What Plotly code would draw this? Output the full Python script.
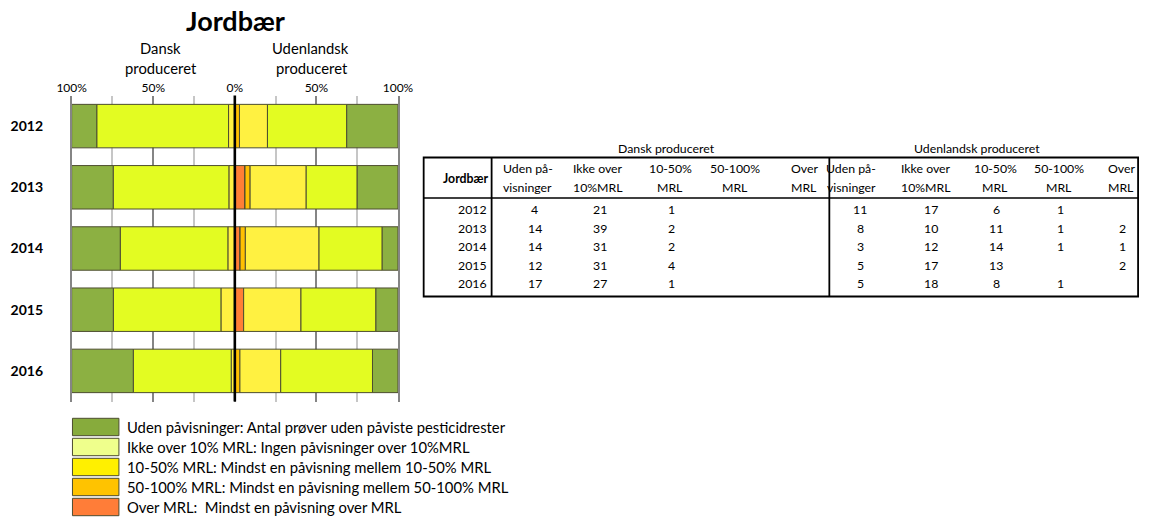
import plotly.graph_objects as go

# ---------------- data ----------------
years = ['2012', '2013', '2014', '2015', '2016']
categories = ['Uden påvisninger', 'Ikke over 10% MRL', '10-50% MRL', '50-100% MRL', 'Over MRL']

dk_uden = [4, 14, 14, 12, 17]
dk_ikke = [21, 39, 31, 31, 27]
dk_10_50 = [1, 2, 2, 4, 1]
dk_50_100 = [0, 0, 0, 0, 0]
dk_over = [0, 0, 0, 0, 0]

fo_uden = [11, 8, 3, 5, 5]
fo_ikke = [17, 10, 12, 17, 18]
fo_10_50 = [6, 11, 14, 13, 8]
fo_50_100 = [1, 1, 1, 0, 1]
fo_over = [0, 2, 1, 2, 0]

tick_vals = [-100, -50, 0, 50, 100]
tick_text = ['100%', '50%', '0%', '50%', '100%']

col_header_1 = ['Uden på-', 'Ikke over', '10-50%', '50-100%', 'Over']
col_header_2 = ['visninger', '10%MRL', 'MRL', 'MRL', 'MRL']

legend_texts = [
    'Uden påvisninger: Antal prøver uden påviste pesticidrester',
    'Ikke over 10% MRL: Ingen påvisninger over 10%MRL',
    '10-50% MRL: Mindst en påvisning mellem 10-50% MRL',
    '50-100% MRL: Mindst en påvisning mellem 50-100% MRL',
    'Over MRL:  Mindst en påvisning over MRL',
]

# ---------------- styles ----------------
W, H = 1157, 518
FONT = 'Lato'
bar_colors = ['#8cb042', '#e3fc22', '#fff141', '#ffc000', '#ff7f36']
legend_colors = ['#87ab3c', '#efff8c', '#fff000', '#ffc300', '#ff7d38']
edge = '#4d4d30'

# the photographed page shows the figure slightly narrowed and centred;
# these helpers place layout items at the intended picture position
SX, OX = 0.974, 15.0


def px(x):
    return min(max((x - OX) / SX, 0.0), W) / W


def py(y):
    return 1 - y / H


dk = [dk_uden, dk_ikke, dk_10_50, dk_50_100, dk_over]
fo = [fo_uden, fo_ikke, fo_10_50, fo_50_100, fo_over]
dk_tot = [sum(s[i] for s in dk) for i in range(len(years))]
fo_tot = [sum(s[i] for s in fo) for i in range(len(years))]

fig = go.Figure()
# stack order from the centre outward: Over MRL ... Uden
for k in [4, 3, 2, 1, 0]:
    fig.add_trace(go.Bar(
        y=years, x=[-100 * v / t for v, t in zip(dk[k], dk_tot)], orientation='h',
        name=categories[k], showlegend=False, width=0.71,
        marker=dict(color=bar_colors[k], line=dict(color=edge, width=1)),
        customdata=dk[k], hovertemplate='Dansk %{y}: %{customdata}<extra>' + categories[k] + '</extra>'))
    fig.add_trace(go.Bar(
        y=years, x=[100 * v / t for v, t in zip(fo[k], fo_tot)], orientation='h',
        name=categories[k], showlegend=False, width=0.71,
        marker=dict(color=bar_colors[k], line=dict(color=edge, width=1)),
        customdata=fo[k], hovertemplate='Udenlandsk %{y}: %{customdata}<extra>' + categories[k] + '</extra>'))

y_dom = [py(401.5), py(95.5)]
x_dom = [px(71.7), px(398.3)]

fig.update_layout(
    width=W, height=H, margin=dict(l=0, r=0, t=0, b=0),
    paper_bgcolor='white', plot_bgcolor='white', barmode='relative', bargap=0.29,
    font=dict(family=FONT, color='black'),
    xaxis=dict(domain=x_dom, range=[-100, 100], side='top', tickvals=tick_vals, ticktext=tick_text,
               tickfont=dict(size=12, family=FONT), ticks='', ticklabelstandoff=0,
               showgrid=True, gridcolor='#858585', gridwidth=1.5, zeroline=False,
               minor=dict(tickvals=[-75, -25, 25, 75], showgrid=True, gridcolor='#c6c6c6', gridwidth=1.5),
               fixedrange=True),
    yaxis=dict(domain=y_dom, categoryorder='array', categoryarray=years, autorange='reversed',
               tickfont=dict(size=14, family=FONT, weight='bold'), ticks='', ticklabelstandoff=24,
               showgrid=False, zeroline=False, showline=True, mirror=True,
               linecolor='#858585', linewidth=1.5, fixedrange=True),
)

shapes = []
# zero reference line
shapes.append(dict(type='line', xref='x', yref='paper', x0=0, x1=0, y0=y_dom[0], y1=y_dom[1],
                   line=dict(color='black', width=2.6), layer='above'))

ann = []
ann.append(dict(text='<b>Jordbær</b>', x=px(236), y=py(20), font=dict(size=27, family=FONT)))
ann.append(dict(text='Dansk', x=px(161), y=py(48.5), font=dict(size=14.8, family=FONT)))
ann.append(dict(text='produceret', x=px(161), y=py(68.3), font=dict(size=14.8, family=FONT)))
ann.append(dict(text='Udenlandsk', x=px(311), y=py(48.5), font=dict(size=14.8, family=FONT)))
ann.append(dict(text='produceret', x=px(312), y=py(68.3), font=dict(size=14.8, family=FONT)))

# ---------------- table ----------------
t_left, t_right, t_top, t_bot = 424, 1139, 157.5, 296.5
t_head = 198
c_year = 492
c_split = 830
head_y1, head_y2 = 168.5, 187
row_y = [209.5, 228, 246.5, 265, 283.5]
dk_head_x = [528, 598, 671, 736, 805]
fo_head_x = [852, 927, 996, 1060, 1122]
dk_num_x = [535, 600, 672, 737, 806]
fo_num_x = [861, 932, 997, 1061, 1123]
tf = dict(size=12.3, family=FONT)

shapes.append(dict(type='rect', xref='paper', yref='paper', x0=px(t_left), x1=px(t_right),
                   y0=py(t_bot), y1=py(t_top), line=dict(color='black', width=1.8)))
shapes.append(dict(type='line', xref='paper', yref='paper', x0=px(t_left), x1=px(t_right),
                   y0=py(t_head), y1=py(t_head), line=dict(color='black', width=1.3)))
for xv in [c_year, c_split]:
    shapes.append(dict(type='line', xref='paper', yref='paper', x0=px(xv), x1=px(xv),
                       y0=py(t_bot), y1=py(t_top), line=dict(color='black', width=1.8)))

ann.append(dict(text='Dansk produceret', x=px(667), y=py(148.5), font=tf))
ann.append(dict(text='Udenlandsk produceret', x=px(978), y=py(148.5), font=tf))
ann.append(dict(text='<b>Jordbær</b>', x=px(490), y=py(178), xanchor='right', font=tf))
for hx_list in (dk_head_x, fo_head_x):
    for j, hx in enumerate(hx_list):
        ann.append(dict(text=col_header_1[j], x=px(hx), y=py(head_y1), font=tf))
        ann.append(dict(text=col_header_2[j], x=px(hx), y=py(head_y2), font=tf))
for i, yr in enumerate(years):
    ann.append(dict(text=yr, x=px(489), y=py(row_y[i]), xanchor='right', font=tf))
    for j in range(5):
        if dk[j][i]:
            ann.append(dict(text=str(dk[j][i]), x=px(dk_num_x[j]), y=py(row_y[i]), font=tf))
        if fo[j][i]:
            ann.append(dict(text=str(fo[j][i]), x=px(fo_num_x[j]), y=py(row_y[i]), font=tf))

# ---------------- legend ----------------
leg_y = [427, 447, 467, 487, 507]
for i, txt in enumerate(legend_texts):
    shapes.append(dict(type='rect', xref='paper', yref='paper', x0=px(72.5), x1=px(119),
                       y0=py(leg_y[i] + 8.7), y1=py(leg_y[i] - 8.7),
                       fillcolor=legend_colors[i], line=dict(color=edge, width=1)))
    ann.append(dict(text=txt, x=px(125), y=py(leg_y[i]), xanchor='left', font=dict(size=14.8, family=FONT)))

for a in ann:
    a.setdefault('xref', 'paper')
    a.setdefault('yref', 'paper')
    a.setdefault('showarrow', False)
    a.setdefault('xanchor', 'center')
    a.setdefault('yanchor', 'middle')

fig.update_layout(shapes=shapes, annotations=ann)
fig.write_html('out.html', config={'displayModeBar': False},
               post_script=("document.documentElement.style.overflow='hidden';"
                            "document.body.style.overflow='hidden';"
                            "document.body.style.margin='0px';"))
